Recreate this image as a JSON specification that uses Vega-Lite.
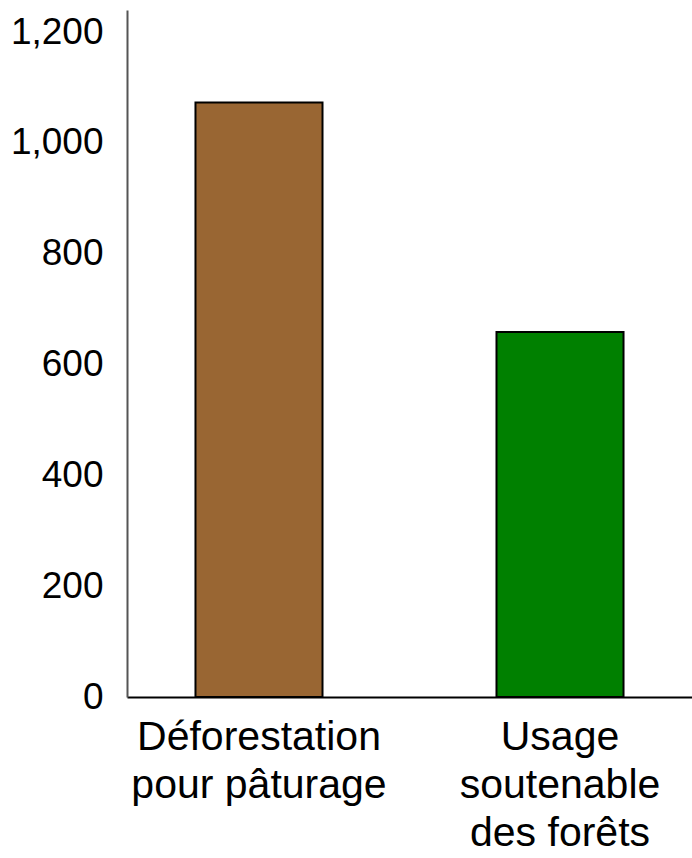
{
  "$schema": "https://vega.github.io/schema/vega-lite/v6.json",
  "autosize": {"type": "none"},
  "padding": {"left": 127, "top": 10, "right": 0, "bottom": 161},
  "width": 565,
  "height": 687,
  "background": "white",
  "data": {"values": [
    {"categorie": "Déforestation pour pâturage", "valeur": 1073},
    {"categorie": "Usage soutenable des forêts", "valeur": 659}
  ]},
  "mark": {"type": "bar", "stroke": "black", "strokeWidth": 2},
  "encoding": {
    "x": {
      "field": "categorie", "type": "nominal", "sort": null,
      "scale": {"paddingInner": 0.578, "paddingOuter": 0.2275},
      "axis": {
        "title": null, "labelAngle": 0, "ticks": false,
        "domainColor": "black", "domainWidth": 2,
        "labelFont": "Liberation Sans", "labelFontSize": 41, "labelColor": "black",
        "labelPadding": 20, "labelLineHeight": 48, "labelBaseline": "top", "labelLimit": 0,
        "labelExpr": "datum.value == 'Usage soutenable des forêts' ? ['Usage', 'soutenable', 'des forêts'] : ['Déforestation', 'pour pâturage']"
      }
    },
    "y": {
      "field": "valeur", "type": "quantitative",
      "scale": {"domain": [0, 1240], "nice": false},
      "axis": {
        "title": null, "grid": false, "ticks": false,
        "values": [0, 200, 400, 600, 800, 1000, 1200],
        "format": ",.0f",
        "domainColor": "#555555", "domainWidth": 2,
        "labelFont": "Liberation Sans", "labelFontSize": 37, "labelColor": "black",
        "labelPadding": 24, "labelLimit": 0
      }
    },
    "color": {
      "field": "categorie", "type": "nominal", "legend": null,
      "scale": {"domain": ["Déforestation pour pâturage", "Usage soutenable des forêts"], "range": ["#996633", "#008000"]}
    }
  },
  "config": {"view": {"stroke": null}}
}
